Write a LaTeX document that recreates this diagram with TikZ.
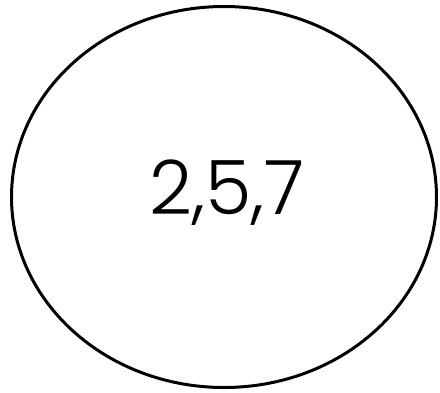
\documentclass[tikz,border=0pt]{standalone}
\usepackage{fontspec}
\setmainfont{Poppins Light}
\usetikzlibrary{shapes.geometric}
\begin{document}
\begin{tikzpicture}[x=1pt,y=-1pt]
\tikzset{setnode/.style={draw=black,line width=3pt,ellipse,minimum width=425pt,minimum height=381pt,inner sep=0pt}}
\useasboundingbox (0,0) rectangle (440,392);
\node[setnode] (s) at (224,197) {};
\node[font=\fontsize{75}{84}\selectfont,anchor=base] (t) at (227,214) {2,5,7};
\end{tikzpicture}
\end{document}
